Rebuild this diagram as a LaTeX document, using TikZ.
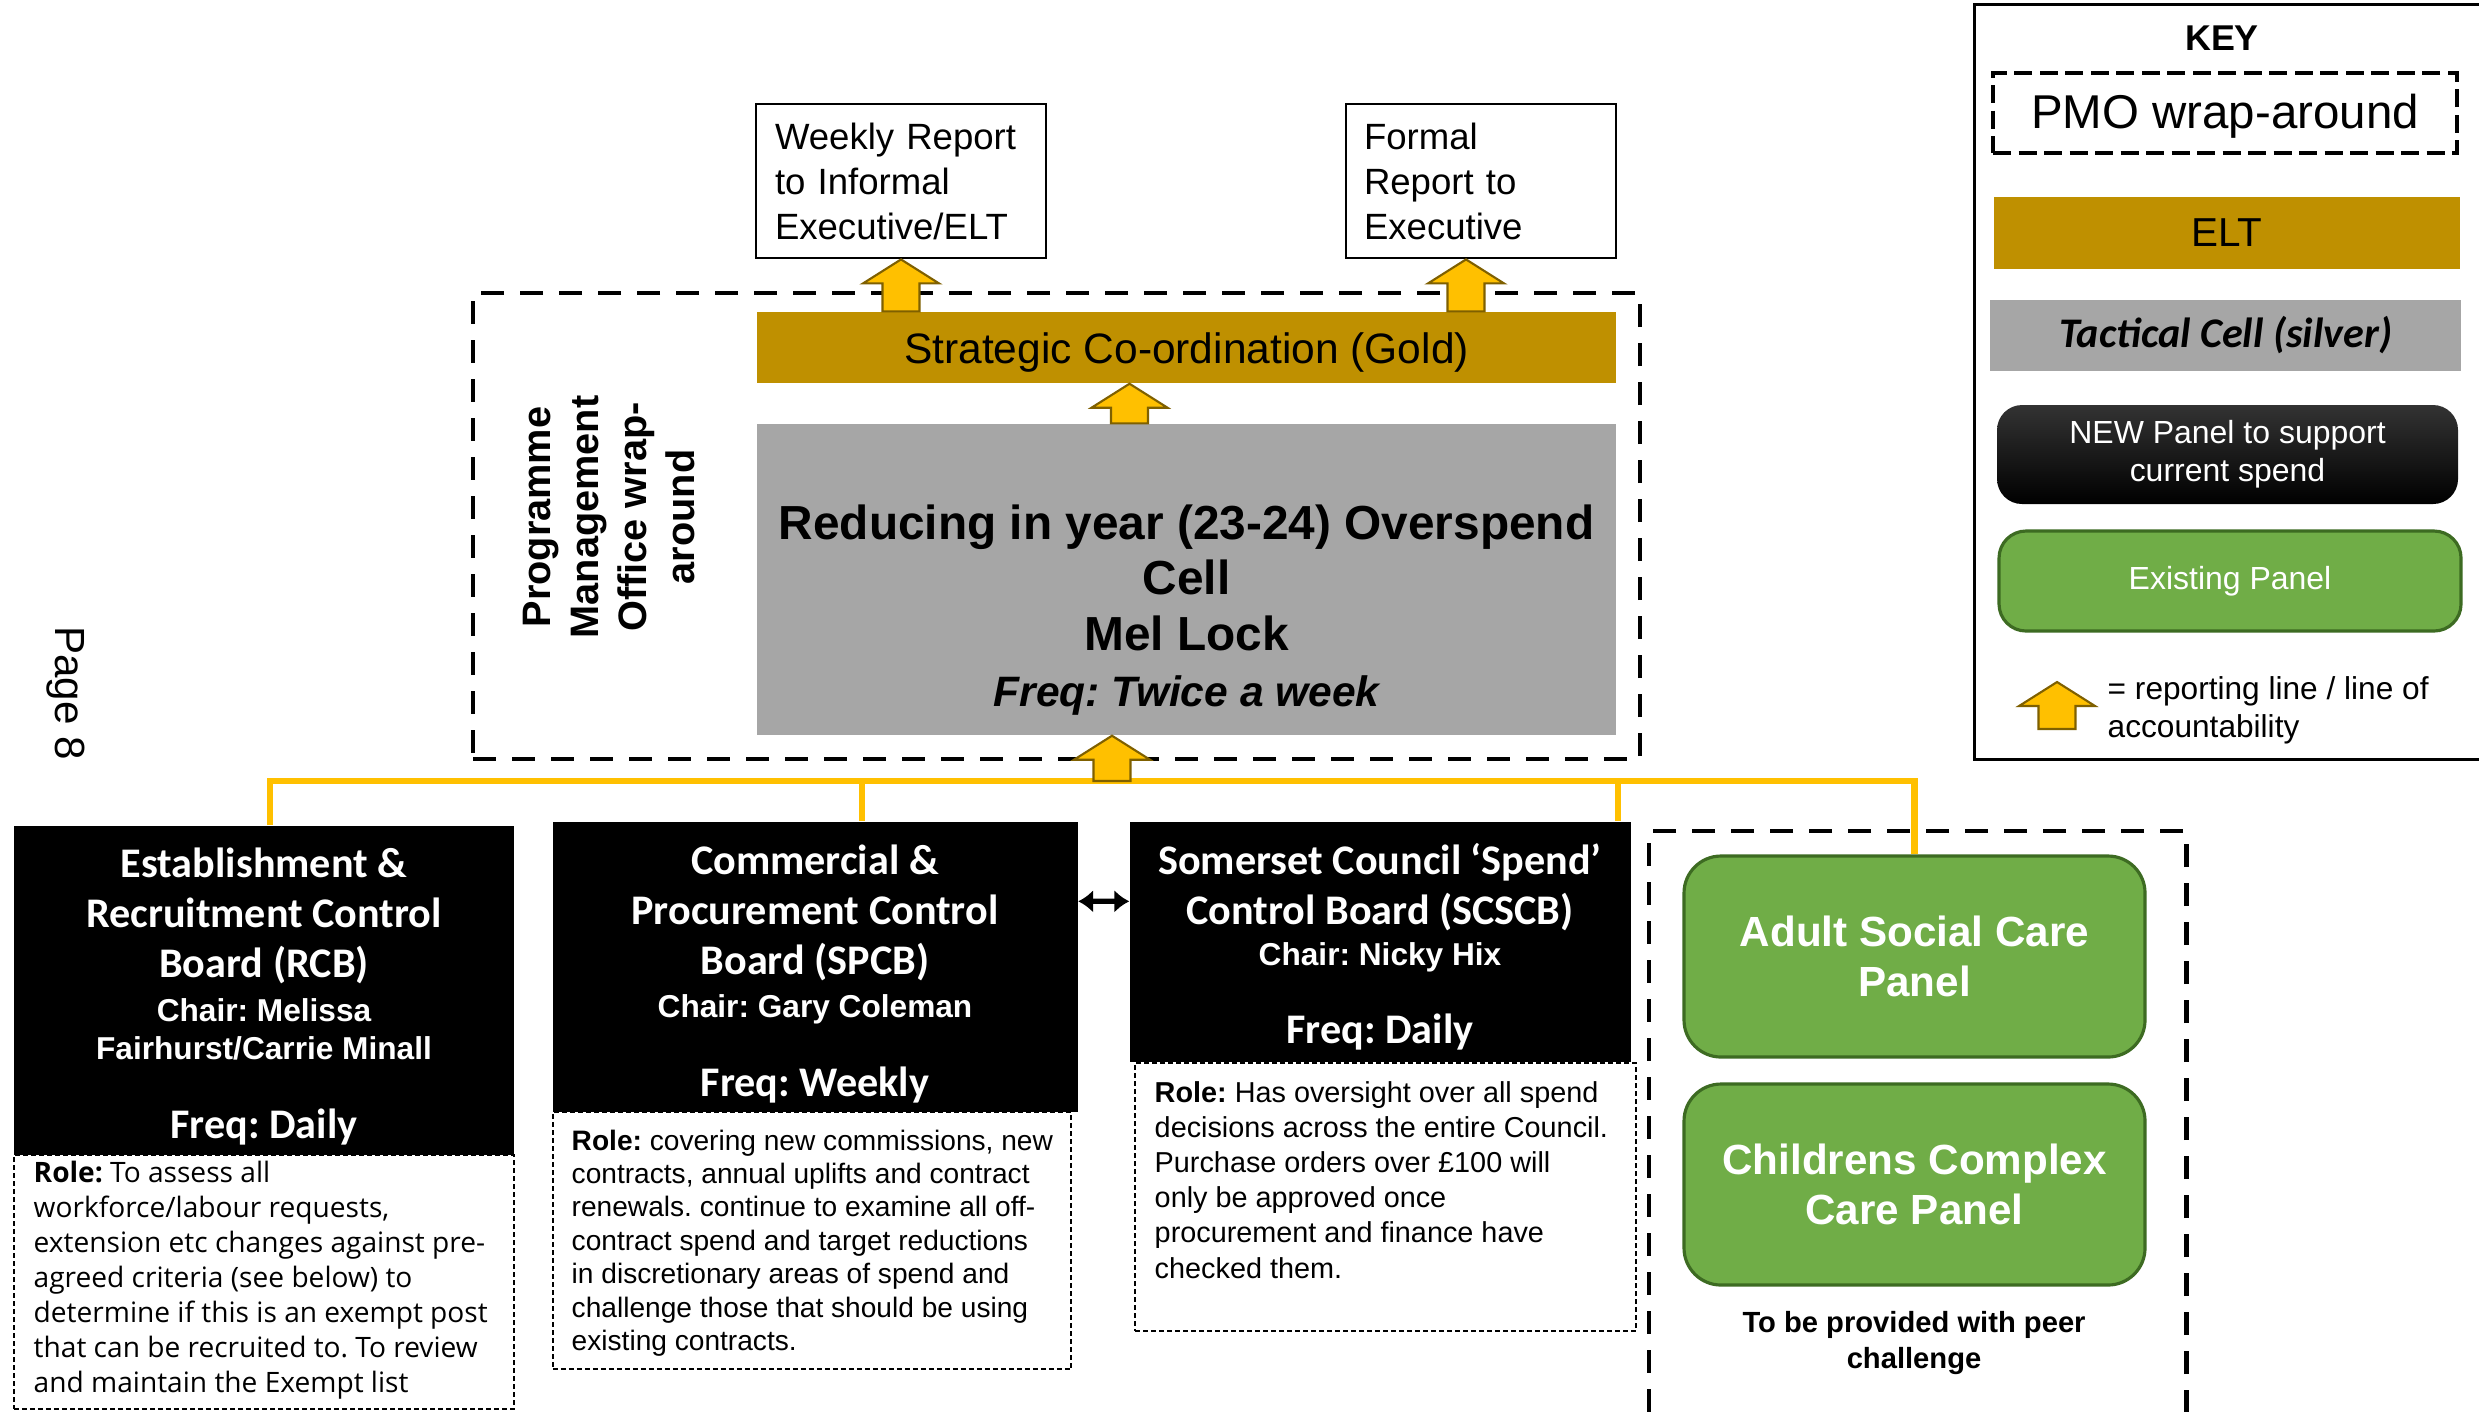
\documentclass[tikz,border=0pt]{standalone}
\usepackage{fontspec}
\setmainfont{Liberation Sans}
\newfontfamily\calibri{Carlito}
\newfontfamily\segoe{Open Sans}
\usetikzlibrary{calc,arrows.meta}
\frenchspacing

\definecolor{goldbar}{HTML}{BF9000}
\definecolor{cellgray}{HTML}{A6A6A6}
\definecolor{arrfill}{HTML}{FFC000}
\definecolor{arrline}{HTML}{7F6000}
\definecolor{panelgreen}{HTML}{70AD47}
\definecolor{paneledge}{HTML}{3D6B22}

\newcommand\fsz[2]{\fontsize{#1}{#2}\selectfont}
% block arrow: #1 = foot, #2 = tip
\newcommand\reparrow[2]{%
  \draw[reparr] let \p1=(#1), \p2=(#2) in
    (\x2,\y2) -- (\x2+3.8mm,\y2-2.4mm) -- (\x2+1.85mm,\y2-2.4mm)
    -- (\x2+1.85mm,\y1) -- (\x2-1.85mm,\y1) -- (\x2-1.85mm,\y2-2.4mm)
    -- (\x2-3.8mm,\y2-2.4mm) -- cycle;}

\begin{document}
\begin{tikzpicture}[x=1mm,y=-1mm]
  \tikzstyle{report}=[draw,line width=0.8pt,align=left,font=\fsz{10.4pt}{12.8pt}]
  \tikzstyle{wrapdash}=[draw,line width=1.4pt,dash pattern=on 2.3mm off 1.6mm,inner sep=0pt]
  \tikzstyle{bar}=[inner sep=0pt]
  \tikzstyle{board}=[fill=black,inner sep=0pt]
  \tikzstyle{roledash}=[draw,line width=0.5pt,dash pattern=on 0.5mm off 0.3mm,inner sep=0pt]
  \tikzstyle{btitle}=[text=white,align=center,font=\calibri\bfseries\fsz{12pt}{14.3pt}]
  \tikzstyle{bchair}=[text=white,align=center,font=\bfseries\fsz{9pt}{10.8pt}]
  \tikzstyle{bfreq}=[text=white,anchor=base,font=\calibri\bfseries\fsz{12pt}{14.3pt}]
  \tikzstyle{roletxt}=[anchor=north west,align=left,inner sep=0pt]
  \tikzstyle{panel}=[rounded corners=3.7mm,fill=panelgreen,draw=paneledge,line width=0.9pt,text=white,align=center,inner sep=0pt,font=\bfseries\fsz{12pt}{14.4pt}]
  \tikzstyle{bus}=[draw=arrfill,line width=1.9pt]
  \tikzstyle{reparr}=[fill=arrfill,draw=arrline,line width=0.6pt]
  \tikzstyle{twoway}=[draw,line width=1.5pt,<->,>={Latex[length=1.5mm,width=2.3mm]}]

  \path[use as bounding box,fill=white] (0,0) rectangle (247.9,141.1);

  \node[rotate=-90,font=\fsz{12pt}{14pt}] (page) at (6.6,69.3) {Page 8};

  % reports at the top
  \node[report,minimum width=29mm,minimum height=15.4mm,text width=25.2mm,inner xsep=1.9mm] (weekly) at (90.1,18.1) {Weekly Report\\to Informal\\Executive/ELT};
  \node[report,minimum width=27.0mm,minimum height=15.4mm,text width=23.4mm,inner xsep=1.8mm] (formal) at (148.1,18.1) {Formal\\Report to\\Executive};

  % PMO wrap-around
  \node[wrapdash,minimum width=116.7mm,minimum height=46.6mm] (pmo) at (105.65,52.6) {};
  \node[rotate=90,align=center,font=\bfseries\fsz{11.3pt}{13.7pt}] (pmoT) at (60.9,51.7) {Programme\\Management\\Office wrap-\\around};
  \node[bar,fill=goldbar,minimum width=85.9mm,minimum height=7.1mm] (gold) at (118.65,34.75) {};
  \node[font=\fsz{12.1pt}{14pt}] (goldT) at (118.65,35.25) {Strategic Co-ordination (Gold)};
  \node[bar,fill=cellgray,minimum width=85.9mm,minimum height=31.1mm] (cell) at (118.65,57.95) {};
  \node[align=center,font=\bfseries\fsz{13.6pt}{15.9pt}] (cellT) at (118.65,61.0) {Reducing in year (23-24) Overspend\\Cell\\Mel Lock\\{\itshape\fsz{12.1pt}{15.9pt}Freq: Twice a week}};

  % existing panels
  \node[wrapdash,minimum width=53.7mm,minimum height=66.9mm] (peerbox) at (191.75,116.55) {};
  \node[panel,minimum width=46.1mm,minimum height=20.1mm] (asc) at (191.45,95.65) {Adult Social Care\\Panel};
  \node[panel,minimum width=46.1mm,minimum height=20.1mm] (ccc) at (191.45,118.45) {Childrens Complex\\Care Panel};
  \node[align=center,font=\bfseries\fsz{8.3pt}{10.2pt}] (peer) at (191.4,134.3) {To be provided with peer\\challenge};

  % boards
  \node[roledash,minimum width=50mm,minimum height=25.4mm] (rcbR) at (26.4,128.2) {};
  \node[roledash,minimum width=51.85mm,minimum height=25.7mm] (spcbR) at (81.2,124.05) {};
  \node[roledash,minimum width=50.1mm,minimum height=26.8mm] (scscbR) at (138.55,119.7) {};
  \node[board,minimum width=50mm,minimum height=32.9mm] (rcb) at (26.4,99.05) {};
  \node[board,minimum width=52.5mm,minimum height=29.0mm] (spcb) at (81.5,96.7) {};
  \node[board,minimum width=50.1mm,minimum height=24.0mm] (scscb) at (138.05,94.2) {};

  \node[btitle] (rcbT) at (26.4,91.6) {Establishment \&\\Recruitment Control\\Board (RCB)};
  \node[bchair] (rcbC) at (26.4,102.9) {Chair: Melissa\\Fairhurst/Carrie Minall};
  \node[bfreq] (rcbF) at (26.4,113.86) {Freq: Daily};
  \node[btitle] (spcbT) at (81.5,91.3) {Commercial \&\\Procurement Control\\Board (SPCB)};
  \node[bchair,anchor=base] (spcbC) at (81.5,101.78) {Chair: Gary Coleman};
  \node[bfreq] (spcbF) at (81.5,109.6) {Freq: Weekly};
  \node[btitle] (scscbT) at (138.0,88.7) {Somerset Council ‘Spend’\\Control Board (SCSCB)};
  \node[bchair,anchor=base] (scscbC) at (138.0,96.53) {Chair: Nicky Hix};
  \node[bfreq] (scscbF) at (138.0,104.36) {Freq: Daily};

  \node[roletxt,font=\segoe\fsz{8pt}{10pt}] (rcbRT) at (3.3,116.0) {{\bfseries Role:} To assess all\\workforce/labour requests,\\extension etc changes against pre-\\agreed criteria (see below) to\\determine if this is an exempt post\\that can be recruited to. To review\\and maintain the Exempt list};
  \node[roletxt,font=\fsz{8pt}{9.5pt}] (spcbRT) at (57.1,112.9) {{\bfseries Role:} covering new commissions, new\\contracts, annual uplifts and contract\\renewals. continue to examine all off-\\contract spend and target reductions\\in discretionary areas of spend and\\challenge those that should be using\\existing contracts.};
  \node[roletxt,font=\fsz{8.2pt}{10pt}] (scscbRT) at (115.4,108.07) {{\bfseries Role:} Has oversight over all spend\\decisions across the entire Council.\\Purchase orders over £100 will\\only be approved once\\procurement and finance have\\checked them.};

  % reporting lines
  \coordinate (bus) at (0,78.1);
  \coordinate (busA) at (27.0,78.1);
  \coordinate (busB) at (86.2,78.1);
  \coordinate (busC) at (161.8,78.1);
  \coordinate (busM) at (111.2,78.1);
  \draw[bus] (busA |- rcb.north) -- (busA) -- (asc.north |- bus) -- (asc.north);
  \draw[bus] (busB) -- (busB |- spcb.north);
  \draw[bus] (busC) -- (busC |- scscb.north);

  \reparrow{busM}{busM |- cell.south}
  \reparrow{$(cell.north)+(-5.7,0)$}{$(gold.south)+(-5.7,0)$}
  \reparrow{weekly.south |- gold.north}{weekly.south}
  \reparrow{$(formal.south |- gold.north)+(-1.5,0)$}{$(formal.south)+(-1.5,0)$}

  \draw[twoway] ($(spcb.north east)+(0,8)$) -- ($(scscb.north west)+(0,8)$);

  % key
  \node[draw,line width=0.85pt,minimum width=51.1mm,minimum height=75.5mm,inner sep=0pt] (key) at (222.95,38.15) {};
  \node[anchor=base,font=\bfseries\fsz{10.2pt}{12pt}] (keyT) at (222.2,5.0) {KEY};
  \node[draw,line width=1.1pt,dash pattern=on 1.8mm off 0.75mm,minimum width=46.4mm,minimum height=8.0mm,inner sep=0pt] (keyPmo) at (222.5,11.3) {};
  \node[font=\fsz{13.5pt}{16pt}] (keyPmoT) at (222.5,11.6) {PMO wrap-around};
  \node[bar,fill=goldbar,minimum width=46.6mm,minimum height=7.2mm,font=\fsz{11.5pt}{14pt}] (keyElt) at (222.7,23.3) {ELT};
  \node[bar,fill=cellgray,minimum width=47.1mm,minimum height=7.1mm,font=\calibri\bfseries\itshape\fsz{12pt}{14pt}] (keyCell) at (222.55,33.55) {Tactical Cell (silver)};
  \node[rounded corners=2.5mm,top color=black!80,middle color=black,bottom color=black,minimum width=46.1mm,minimum height=9.9mm,inner sep=0pt,text=white,align=center,font=\fsz{9.1pt}{10.8pt}] (keyNew) at (222.75,45.45) {NEW Panel to support\\current spend};
  \node[panel,rounded corners=2.7mm,minimum width=46.2mm,minimum height=10mm,font=\fsz{9.1pt}{10.8pt}] (keyOld) at (223.0,58.1) {Existing Panel};
  \coordinate (keyArr) at (205.7,72.9);
  \reparrow{keyArr}{$(keyArr)+(0,-4.7)$}
  \node[roletxt,font=\fsz{9pt}{11pt}] (keyArrT) at (210.7,67.55) {= reporting line / line of\\accountability};
\end{tikzpicture}
\end{document}
